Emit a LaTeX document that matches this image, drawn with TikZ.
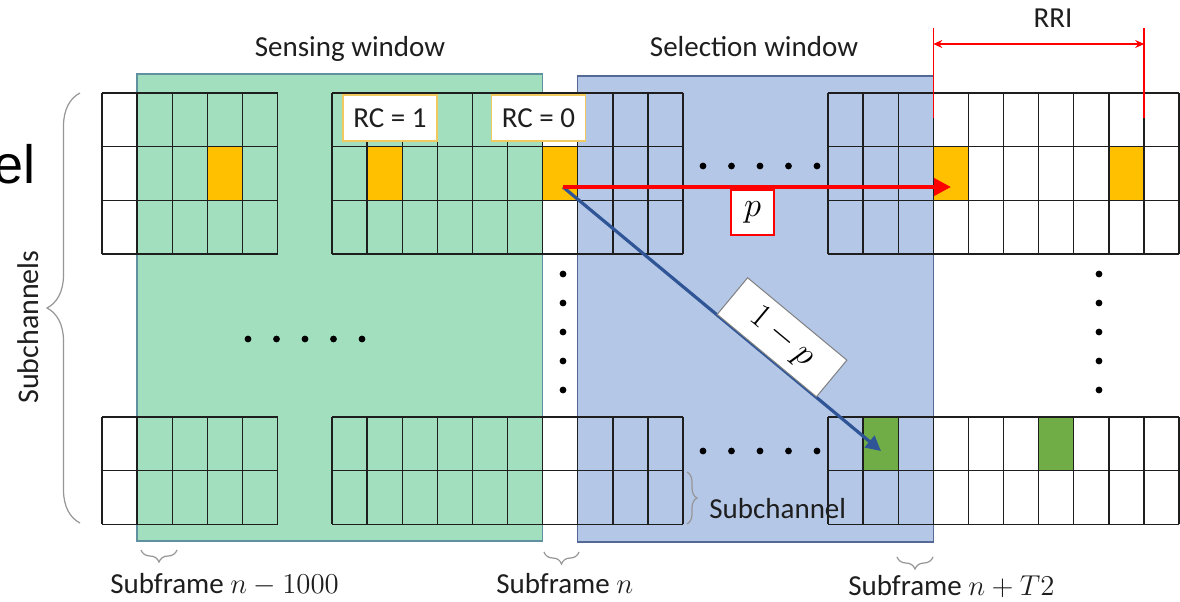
\documentclass[tikz,border=0pt]{standalone}
\usepackage[no-math]{fontspec}
\setmainfont{Carlito}
\newfontfamily\arialfont{Liberation Sans}
\usetikzlibrary{arrows.meta,decorations.pathreplacing}

\definecolor{sensegreen}{RGB}{161,223,191}
\definecolor{senseedge}{RGB}{95,145,160}
\definecolor{selblue}{RGB}{180,199,231}
\definecolor{seledge}{RGB}{85,105,150}
\definecolor{resyellow}{RGB}{255,192,0}
\definecolor{resgreen}{RGB}{112,173,71}
\definecolor{arrowblue}{RGB}{47,85,151}
\definecolor{rcgold}{RGB}{240,202,95}
\definecolor{txt}{RGB}{30,30,30}
\definecolor{bracegray}{RGB}{150,150,150}

\begin{document}
\begin{tikzpicture}[x=0.5pt,y=-0.5pt,
  lbl/.style={font=\fontsize{14.5}{17}\selectfont, text=txt, inner sep=0pt},
  gridline/.style={draw=txt, line width=0.7pt},
  window/.style={line width=0.6pt},
  rcbox/.style={draw=rcgold, line width=0.9pt, fill=white, minimum width=47pt,
    minimum height=23pt, inner sep=0pt, font=\fontsize{14.5}{17}\selectfont, text=txt},
  probbox/.style={fill=white, inner sep=0pt, text=black},
  brc/.style={draw=bracegray, line width=0.6pt, decorate},
  dotmark/.style={fill=black},
  redarrow/.style={draw=red, line width=2pt, -{Triangle[length=8.5pt,width=8.5pt]}},
  bluearrow/.style={draw=arrowblue, line width=1.6pt, -{Triangle[length=7.5pt,width=7.5pt]}},
  rriline/.style={draw=red, line width=0.8pt}
]
\useasboundingbox (0,0) rectangle (1180,601);
\fill[white] (0,0) rectangle (1180,601);

% sensing and selection windows
\fill[sensegreen] (137,74) rectangle (542.6,541);
\draw[window, senseedge] (137,541) -- (137,74) -- (542.6,74) -- (542.6,541) -- cycle;
\fill[selblue] (577.7,76) rectangle (933.3,542);
\draw[window, seledge] (577.7,76) rectangle (933.3,542);

% occupied resources
\foreach \cx in {207.3,367.1,542.6,933.3,1108.8}
  \fill[resyellow] (\cx,146.6) rectangle +(35.1,53.6);
\foreach \cx in {863.1,1038.6}
  \fill[resgreen] (\cx,417) rectangle +(35.1,53.6);

% resource grids (subframes x subchannels)
\foreach \gx/\gn in {102/5,332/10,828/10}{
  \foreach \gy/\rn in {93/3,417/2}{
    \foreach \i in {0,...,\gn}
      \draw[gridline] ({\gx+\i*35.1},\gy) -- ({\gx+\i*35.1},{\gy+\rn*53.6});
    \foreach \j in {0,...,\rn}
      \draw[gridline] (\gx,{\gy+\j*53.6}) -- ({\gx+\gn*35.1},{\gy+\j*53.6});
  }
}

% ellipsis dots
\foreach \dx in {248,276.5,305,333.5,362}
  \fill[dotmark] (\dx,339) circle[radius=1.7pt];
\foreach \dx in {703,731.5,760,788.5,817}{
  \fill[dotmark] (\dx,166) circle[radius=1.7pt];
  \fill[dotmark] (\dx,451) circle[radius=1.7pt];
}
\foreach \dy in {274,303,332,361,390}{
  \fill[dotmark] (563,\dy) circle[radius=1.7pt];
  \fill[dotmark] (1099,\dy) circle[radius=1.7pt];
}

% reservation counters
\node[rcbox] (rc1) at (390,118) {RC = 1};
\node[rcbox] (rc0) at (538.5,118) {RC = 0};

% reselection arrows
\coordinate (src) at (563,187);
\coordinate (keep) at (951,187);
\coordinate (resel) at (881,451);
\draw[bluearrow] (src) -- node[probbox, draw=gray, line width=0.5pt, sloped, above,
  pos=0.64, minimum width=64.5pt, minimum height=23.8pt,
  font=\fontsize{16}{18}\selectfont] (qlabel) {$1-p$} (resel);
\draw[redarrow] (src) -- (keep);
\node[probbox, draw=red, line width=0.6pt, minimum width=21.5pt, minimum height=22.5pt,
  font=\fontsize{18}{20}\selectfont] (plabel) at (752.5,212.5) {$p$};

% resource reservation interval
\coordinate (rriL) at (933.3,44);
\coordinate (rriR) at (1144.2,44);
\draw[rriline] (933.3,28) -- (933.3,118);
\draw[rriline] (1144.2,28) -- (1144.2,118);
\draw[rriline, line width=0.6pt, {Stealth[length=4.5pt,width=4pt]}-{Stealth[length=4.5pt,width=4pt]}] (rriL) -- (rriR);
\node[lbl, anchor=base] (rri) at (1053,27) {RRI};

% window titles
\node[lbl, anchor=base] (sensetitle) at (350,56) {Sensing window};
\node[lbl, anchor=base] (seltitle) at (754,56) {Selection window};

% braces and their labels
\draw[brc, decoration={brace, amplitude=16.5pt}] (80,523) -- (80,93);
\node[lbl, rotate=90, font=\fontsize{15}{17}\selectfont] (subch) at (28,327) {Subchannels};
\draw[brc, decoration={brace, amplitude=5pt}] (687,472) -- (687,524);
\node[lbl, anchor=base west] (onesubch) at (709,518) {Subchannel};
\draw[brc, decoration={brace, amplitude=6pt}] (177,550) -- (141,550);
\draw[brc, decoration={brace, amplitude=6pt}] (579,552) -- (544,552);
\draw[brc, decoration={brace, amplitude=6pt}] (933,557) -- (897,557);
\node[lbl, anchor=base west] (sf1) at (110,593) {Subframe $n-1000$};
\node[lbl, anchor=base west] (sf2) at (496,593) {Subframe $n$};
\node[lbl, anchor=base west] (sf3) at (848,595) {Subframe $n+T2$};

% clipped label at the left margin
\node[anchor=base west, inner sep=0pt, font=\arialfont\fontsize{27}{30}\selectfont] (elfrag) at (-6.5,183) {el};
\end{tikzpicture}
\end{document}
